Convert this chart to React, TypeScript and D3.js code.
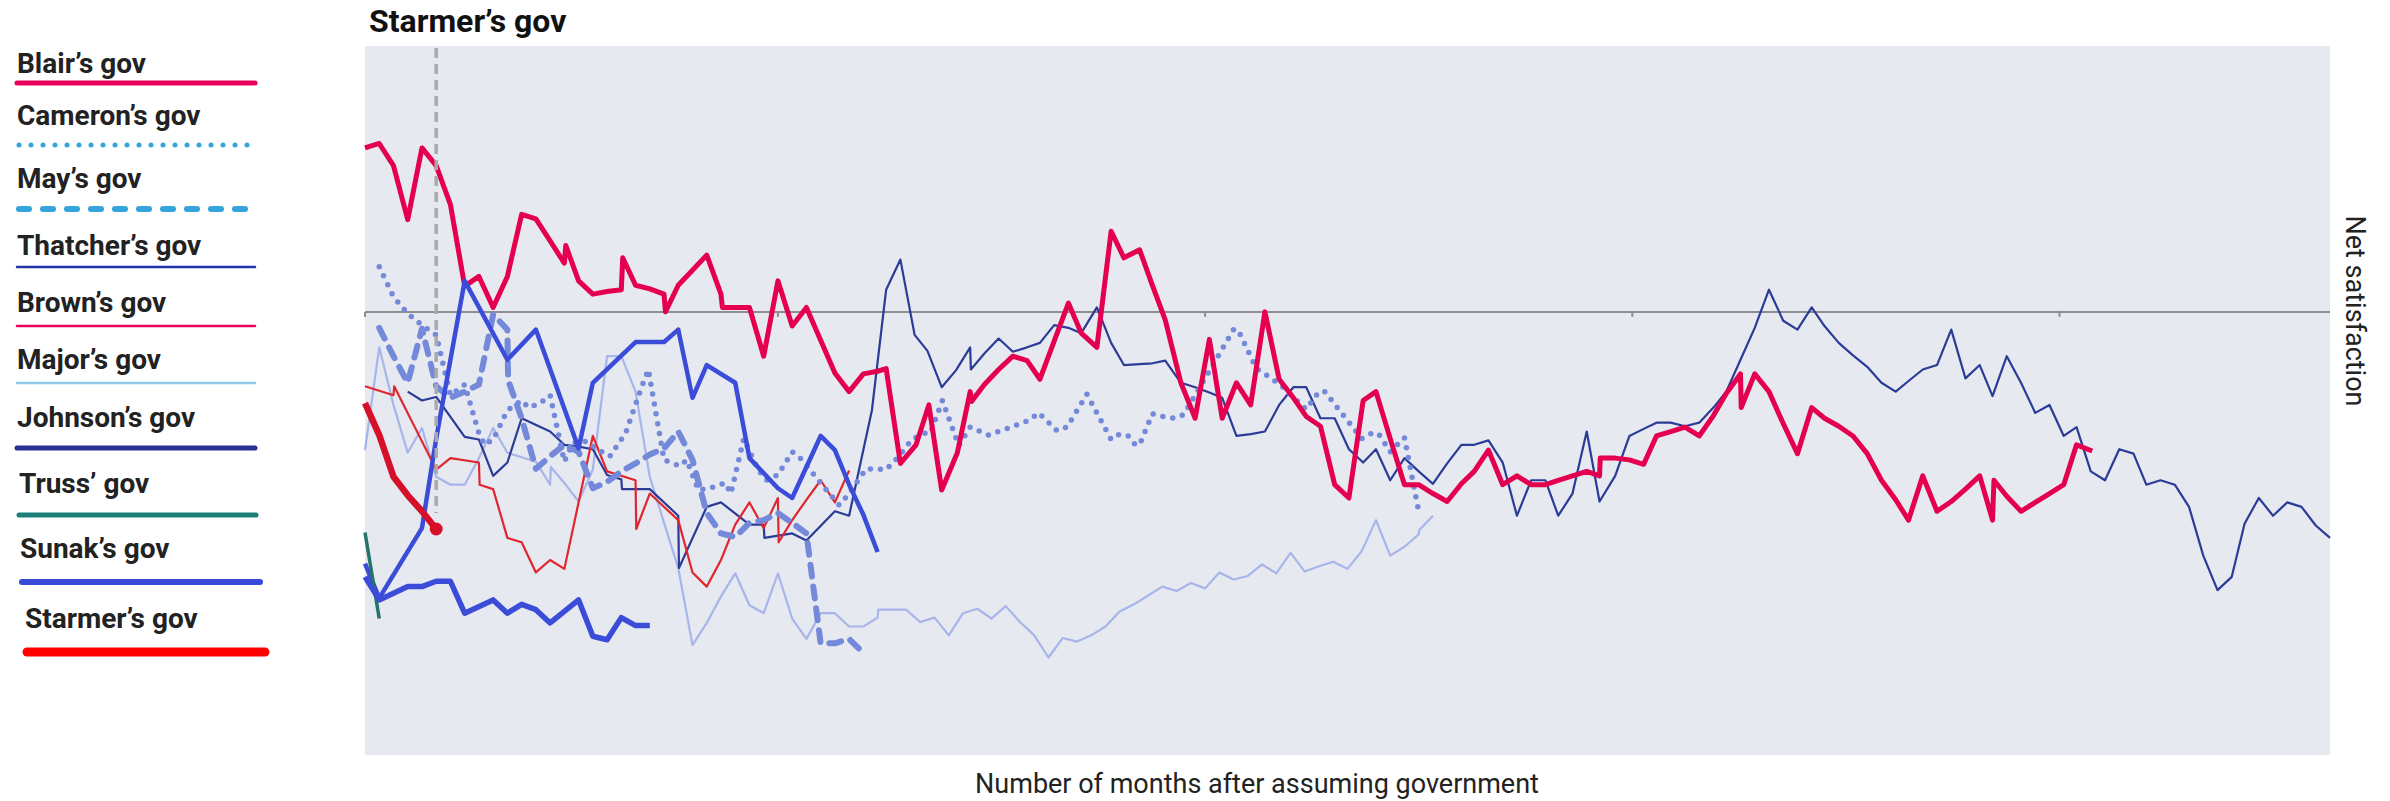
import React from "react";
import * as d3 from "d3";

type Pt = [number, number];

// months after taking office -> net satisfaction
const thatcher: Pt[] = [
  [4, -9.0], [5, -10.0], [6, -9.6], [8, -14.1], [9, -14.4], [10, -18.5], [11, -17.0], [12, -12.0],
  [14, -13.5], [15, -15.0], [16, -15.2], [17, -15.5], [18, -18.4], [19, -18.9], [19.05, -20.0],
  [21, -20.0], [23, -23.0], [23.05, -28.9], [25, -22.0], [26, -21.5], [28, -24.0], [29, -24.0],
  [29.05, -25.5], [31, -25.0], [32, -25.8], [34, -22.5], [35, -23.0], [36.6, -11.1], [37.6, 2.5],
  [38.6, 5.9], [39.6, -2.6], [40.5, -4.4], [41.5, -8.5], [42.5, -6.6], [43.5, -4.0], [43.55, -6.5],
  [44.5, -4.7], [45.5, -3.0], [46.5, -4.5], [47.5, -4.0], [48.4, -3.5], [49.4, -1.5], [50.4, -1.8],
  [51.3, -2.4], [52.4, 0.5], [53.4, -3.5], [54.3, -6.0], [55.4, -5.9], [56.3, -5.8], [57.2, -5.5],
  [58.3, -8.0], [59.3, -8.5], [60.3, -9.1], [61.2, -9.7], [62.2, -14.0], [63.2, -13.8], [64.2, -13.5],
  [65.2, -10.5], [66.2, -8.5], [67.1, -8.5], [68.1, -12.0], [69.1, -12.0], [70.1, -15.5], [71.1, -17.0],
  [72.0, -15.5], [73.0, -19.0], [74.0, -16.5], [75.0, -18.0], [76.0, -19.4], [77.0, -17.1], [78.0, -15.0],
  [78.9, -15.0], [79.9, -14.5], [80.9, -17.0], [81.9, -23.0], [82.9, -19.0], [83.9, -19.0], [84.8, -23.0],
  [85.8, -20.5], [86.8, -13.5], [87.7, -21.4], [88.8, -18.5], [89.8, -14.0], [90.8, -13.2], [91.7, -12.5],
  [92.7, -12.5], [93.7, -12.9], [94.7, -12.5], [95.7, -10.8], [96.6, -9.0], [97.6, -5.4], [98.6, -1.8],
  [99.6, 2.5], [100.6, -1.0], [101.6, -2.0], [102.6, 0.5], [103.5, -1.6], [104.5, -3.5], [105.5, -4.9],
  [106.5, -6.2], [107.5, -8.0], [108.5, -9.0], [109.4, -7.8], [110.4, -6.5], [111.4, -6.0], [112.4, -2.0],
  [113.4, -7.5], [114.4, -6.0], [115.3, -9.5], [116.3, -5.0], [117.3, -8.0], [118.3, -11.4], [119.3, -10.5],
  [120.3, -14.0], [121.2, -13.0], [122.2, -18.0], [123.2, -19.0], [124.2, -15.5], [125.2, -16.0],
  [126.1, -19.5], [127.1, -19.0], [128.1, -19.5], [129.1, -22.0], [130.1, -27.5], [131.1, -31.4],
  [132.1, -29.9], [133, -23.9], [134, -21.0], [135, -23.0], [136, -21.5], [137, -22.0], [138, -24.1],
  [139, -25.5],
];

const major: Pt[] = [
  [1, -15.6], [2, -4.0], [3, -10.5], [4, -15.9], [5, -13.1], [6, -18.6], [7, -19.5], [8, -19.5],
  [9, -16.5], [10, -13.1], [11, -15.9], [12, -16.4], [13, -16.9], [14, -19.5], [14.05, -17.5],
  [15, -19.3], [16, -21.4], [17, -17.8], [18, -5.0], [19, -5.0], [20, -9.0], [21, -18.6], [22, -23.8],
  [23, -28.9], [24, -37.6], [25, -35.1], [26, -32.1], [27, -29.5], [28, -33.1], [29, -34.0], [30, -29.5],
  [31, -34.6], [32, -36.9], [33, -34.0], [34, -34.0], [35, -35.5], [36, -35.5], [37, -34.5],
  [37.05, -33.6], [38, -33.6], [39, -33.6], [40, -35.0], [41, -34.5], [42, -36.5], [43, -34.0],
  [44, -33.5], [45, -34.6], [46, -33.2], [47, -35.0], [48, -36.5], [49, -39.0], [50, -36.8], [51, -37.2],
  [52, -36.5], [53, -35.5], [54, -33.8], [55, -33.0], [56, -32.0], [57, -31.0], [58, -31.5], [59, -30.6],
  [60, -31.2], [61, -29.4], [62, -30.2], [63, -29.8], [64, -28.5], [65, -29.5], [66, -27.2], [67, -29.3],
  [68, -28.7], [69, -28.2], [70, -29.0], [71, -27.0], [72, -23.5], [73, -27.5], [74, -26.5], [75, -25.1],
  [75.05, -24.6], [76, -23.0],
];

const blair: Pt[] = [
  [1, 18.5], [2, 19.0], [3, 16.5], [4, 10.4], [5, 18.5], [6, 16.5], [7, 12.1], [8, 2.9], [9, 4.0],
  [10, 0.5], [11, 4.0], [12, 11.0], [13, 10.5], [14, 8.0], [15, 5.5], [15.1, 7.5], [16, 3.5], [17, 2.0],
  [18, 2.3], [19, 2.5], [19.1, 6.1], [20, 3.0], [21, 2.6], [22, 2.0], [22.1, 0], [23, 3.0], [24, 4.7],
  [25, 6.4], [26, 2.0], [26.1, 0.5], [27, 0.5], [28, 0.5], [29, -5.0], [30, 3.5], [31, -1.6], [32, 0.5],
  [33, -3.2], [34, -6.9], [35, -9.0], [36, -7.0], [37, -6.7], [37.6, -6.4], [38.6, -17.1],
  [39.7, -15.0], [40.6, -10.5], [41.5, -20.1], [42.6, -15.9], [43.5, -9.0], [43.6, -10.1], [44.5, -8.2],
  [45.5, -6.5], [46.5, -5.0], [47.5, -5.5], [48.4, -7.6], [49.4, -3.3], [50.4, 1.0], [51.3, -2.4],
  [52.4, -4.0], [53.4, 9.1], [54.3, 6.1], [55.4, 7.0], [56.3, 3.0], [57.2, -0.9], [58.3, -8.0],
  [59.3, -12.0], [60.3, -3.1], [61.2, -12.0], [62.2, -8.0], [63.2, -10.5], [64.2, 0], [65.2, -7.6],
  [66.2, -9.7], [67.1, -11.8], [68.1, -12.9], [69.1, -19.5], [70.1, -21.0], [71.1, -10.0], [72.0, -9.0],
  [73.0, -14.3], [74.0, -19.5], [75.0, -19.5], [76.0, -20.5], [77.0, -21.4], [78.0, -19.4], [78.9, -18.0],
  [79.9, -15.6], [80.9, -19.5], [81.9, -18.5], [82.9, -19.5], [83.9, -19.5], [84.8, -19.0], [85.8, -18.5],
  [86.8, -18.0], [87.7, -18.5], [87.75, -16.5], [88.8, -16.5], [89.8, -16.7], [90.8, -17.2], [91.7, -14.0],
  [92.7, -13.5], [93.7, -13.0], [94.7, -14.0], [95.7, -11.7], [96.6, -9.2], [97.6, -7.0], [97.65, -10.8],
  [98.6, -7.0], [99.6, -9.0], [100.6, -12.6], [101.6, -16.0], [102.6, -10.8], [103.5, -12.0],
  [104.5, -12.9], [105.5, -14.0], [106.5, -16.0], [107.5, -19.0], [108.5, -21.2], [109.4, -23.5],
  [110.4, -18.5], [111.4, -22.5], [112.4, -21.4], [113.4, -20.0], [114.4, -18.5], [115.3, -23.5],
  [115.4, -19.0], [116.3, -20.8], [117.3, -22.5], [118.3, -21.5], [119.3, -20.5], [120.3, -19.5],
  [121.2, -15.0], [122.3, -15.7],
];

const brown: Pt[] = [
  [1, -8.4], [3, -9.4], [3.05, -8.4], [6, -17.8], [7, -16.5], [9, -17.0], [9.05, -19.5], [10, -20.0],
  [11, -25.5], [12, -26.0], [13, -29.4], [14, -28.0], [15, -29.0], [17, -14.0], [18, -18.0], [20, -19.0],
  [20.05, -24.5], [21, -20.5], [23, -23.5], [24, -29.4], [25, -31.0], [26, -28.0], [27, -24.0],
  [28, -21.5], [29, -24.4], [30, -21.0], [30.05, -26.0], [31, -23.5], [32, -21.2], [33, -19.0],
  [34, -21.5], [35, -17.9],
];

const cameron: Pt[] = [
  [2, 5.1], [3, 1.7], [4, -0.2], [5, -1.5], [6, -2.6], [7, -9.4], [8, -8.2], [9, -13.7], [9.4, -15.0],
  [10, -14.4], [11, -11.1], [12, -10.0], [12.5, -10.8], [13.3, -10.3], [14, -9.4], [15, -16.9],
  [15.6, -14.8], [16.6, -14.6], [17.2, -15.4], [18.2, -16.3], [19.3, -13.7], [20.4, -8.6], [20.9, -6.5],
  [22, -16.7], [23.1, -17.4], [23.6, -16.7], [24.4, -20.1], [25.2, -19.9], [26.3, -19.3], [26.7, -20.5],
  [27.6, -14.3], [28.6, -17.8], [29.2, -19.0], [30, -18.4], [31, -15.8], [31.7, -16.7], [33, -19.3],
  [34.3, -21.8], [34.9, -20.7], [36.2, -17.7], [37.6, -17.8], [38.5, -16.3], [39.4, -14.4], [40.3, -13.7],
  [40.7, -13.7], [41.55, -10.0], [42.7, -15.1], [43.5, -13.0], [44.8, -13.9], [46.2, -13.1], [47.7, -12.2],
  [48.3, -11.4], [49.6, -13.4], [50.3, -13.0], [51.7, -9.3], [53.4, -14.4], [54.0, -13.8], [54.6, -14.0],
  [55.1, -15.0], [55.4, -15.0], [56.3, -11.5], [57.0, -11.8], [57.8, -12.0], [58.5, -11.6], [62.0, -2.0],
  [62.3, -2.0], [63.6, -6.4], [64.2, -7.0], [65.4, -8.4], [67.1, -11.0], [68.0, -9.0], [68.4, -9.0],
  [71.0, -14.3], [71.8, -13.6], [72.2, -13.8], [73.0, -15.8], [74.0, -14.2], [75.0, -22.5],
];

const may: Pt[] = [
  [2, -1.8], [3, -5.0], [4, -8.0], [5, -1.9], [6, -8.4], [7, -9.7], [8, -9.0], [9, -8.2], [10, -0.3],
  [11, -2.0], [11.05, -7.7], [12, -12.0], [13, -17.7], [14, -16.3], [15, -15.0], [16, -15.8], [17, -19.9],
  [18, -19.2], [19, -18.0], [20, -17.1], [21, -16.1], [22, -15.4], [23, -13.5], [24, -16.7], [25, -22.7],
  [26, -25.0], [27, -25.4], [28, -23.8], [29, -23.5], [30, -22.7], [31, -23.8], [32, -25.0], [33, -37.4],
  [34, -37.4], [35, -36.9], [36, -38.5],
];

const johnson: Pt[] = [
  [1, -28.4], [2, -32.3], [5, -24.4], [6, -14.3], [8, 3.5], [11, -5.4], [13, -2.0], [16, -15.4],
  [17, -8.0], [20, -3.4], [22, -3.4], [23, -2.0], [24, -9.7], [25, -6.0], [27, -8.0], [28, -16.5],
  [30, -19.9], [31, -21.0], [33, -14.0], [34, -15.6], [35, -19.5], [36, -22.9], [37, -27.1],
];

const truss: Pt[] = [[1, -24.9], [2, -34.6]];

const sunak: Pt[] = [
  [1, -29.9], [2, -32.5], [4, -31.0], [5, -31.0], [6, -30.4], [7, -30.4], [8, -34.0], [10, -32.5],
  [11, -34.0], [12, -33.0], [13, -33.6], [14, -35.1], [16, -32.5], [17, -36.6], [18, -37.0], [19, -34.5],
  [20, -35.4], [21, -35.4],
];

const starmer: Pt[] = [[1, -10.3], [2, -13.9], [3, -18.6], [4, -20.7], [5, -22.5], [6, -24.5]];

const xTicks = [1, 30, 60, 90, 120];

const x = d3.scaleLinear().domain([1, 139]).range([365, 2330]);
const y = d3.scaleLinear().domain([-50, 30]).range([755, 46]);
const line = d3.line<Pt>().x((d) => x(d[0])).y((d) => y(d[1]));

const series = [
  { data: major, stroke: "#a7b5ea", w: 2.2 },
  { data: thatcher, stroke: "#2b3b97", w: 2.2 },
  { data: brown, stroke: "#e0262f", w: 2.2 },
  { data: cameron, stroke: "#7489da", w: 5.5, dash: "0 10" },
  { data: may, stroke: "#7489da", w: 6, dash: "12 10" },
  { data: blair, stroke: "#e5004f", w: 5 },
  { data: johnson, stroke: "#3b4cd9", w: 4.5 },
  { data: truss, stroke: "#25736b", w: 3.5 },
  { data: sunak, stroke: "#3b4cd9", w: 5.5 },
];

const legend = [
  { label: "Blair’s gov", tx: 17, ty: 73, x1: 17, x2: 255, ly: 83, stroke: "#e8005a", w: 5 },
  { label: "Cameron’s gov", tx: 17, ty: 125, x1: 19, x2: 253, ly: 145, stroke: "#34a4dc", w: 5, dash: "0 12" },
  { label: "May’s gov", tx: 17, ty: 188, x1: 19, x2: 247, ly: 209, stroke: "#34a4dc", w: 6, dash: "10 14" },
  { label: "Thatcher’s gov", tx: 17, ty: 255, x1: 17, x2: 255, ly: 267, stroke: "#2433a6", w: 2.5 },
  { label: "Brown’s gov", tx: 17, ty: 312, x1: 17, x2: 255, ly: 326, stroke: "#e8005a", w: 2.5 },
  { label: "Major’s gov", tx: 17, ty: 369, x1: 17, x2: 255, ly: 383, stroke: "#8ecbec", w: 2.5 },
  { label: "Johnson’s gov", tx: 17, ty: 427, x1: 17, x2: 255, ly: 448, stroke: "#25328f", w: 5 },
  { label: "Truss’ gov", tx: 19, ty: 493, x1: 19, x2: 256, ly: 515, stroke: "#1b7f78", w: 5 },
  { label: "Sunak’s gov", tx: 20, ty: 558, x1: 22, x2: 260, ly: 582, stroke: "#3a4ad8", w: 6 },
  { label: "Starmer’s gov", tx: 25, ty: 628, x1: 27, x2: 265, ly: 652, stroke: "#ff0000", w: 9 },
];

export default function App() {
  const last = starmer[starmer.length - 1];
  return (
    <svg
      width={2390}
      height={801}
      style={{ position: "absolute", left: 0, top: 0, fontFamily: "Roboto, sans-serif" }}
    >
      <rect x={365} y={46} width={2330 - 365} height={755 - 46} fill="#e6e9ef" />

      {/* zero line + ticks */}
      <line x1={365} x2={2330} y1={y(0)} y2={y(0)} stroke="#8e8e8e" strokeWidth={2} />
      {xTicks.map((t) => (
        <line key={t} x1={x(t)} x2={x(t)} y1={y(0)} y2={y(0) + 5} stroke="#8e8e8e" strokeWidth={2} />
      ))}

      {series.map((s, i) => (
        <path
          key={i}
          d={line(s.data) || ""}
          fill="none"
          stroke={s.stroke}
          strokeWidth={s.w}
          strokeDasharray={s.dash}
          strokeLinecap={s.dash ? "round" : "butt"}
          strokeLinejoin="round"
        />
      ))}

      <line
        x1={x(last[0])}
        x2={x(last[0])}
        y1={48}
        y2={513}
        stroke="#aaaaaa"
        strokeWidth={3.5}
        strokeDasharray="10 6"
      />

      <path d={line(starmer) || ""} fill="none" stroke="#d7102a" strokeWidth={6.5} strokeLinejoin="round" />
      <circle cx={x(last[0])} cy={y(last[1])} r={6.5} fill="#d7102a" />

      <text x={369} y={32} fontSize={32} fontWeight={700} fill="#111">
        Starmer’s gov
      </text>

      {legend.map((l) => (
        <g key={l.label}>
          <text x={l.tx} y={l.ty} fontSize={28} fontWeight={700} fill="#222">
            {l.label}
          </text>
          <line
            x1={l.x1}
            x2={l.x2}
            y1={l.ly}
            y2={l.ly}
            stroke={l.stroke}
            strokeWidth={l.w}
            strokeLinecap="round"
            strokeDasharray={l.dash}
          />
        </g>
      ))}

      <text transform="translate(2346,311) rotate(90)" textAnchor="middle" fontSize={27} fill="#222">
        Net satisfaction
      </text>
      <text x={1257} y={793} textAnchor="middle" fontSize={27} fill="#222">
        Number of months after assuming government
      </text>
    </svg>
  );
}
